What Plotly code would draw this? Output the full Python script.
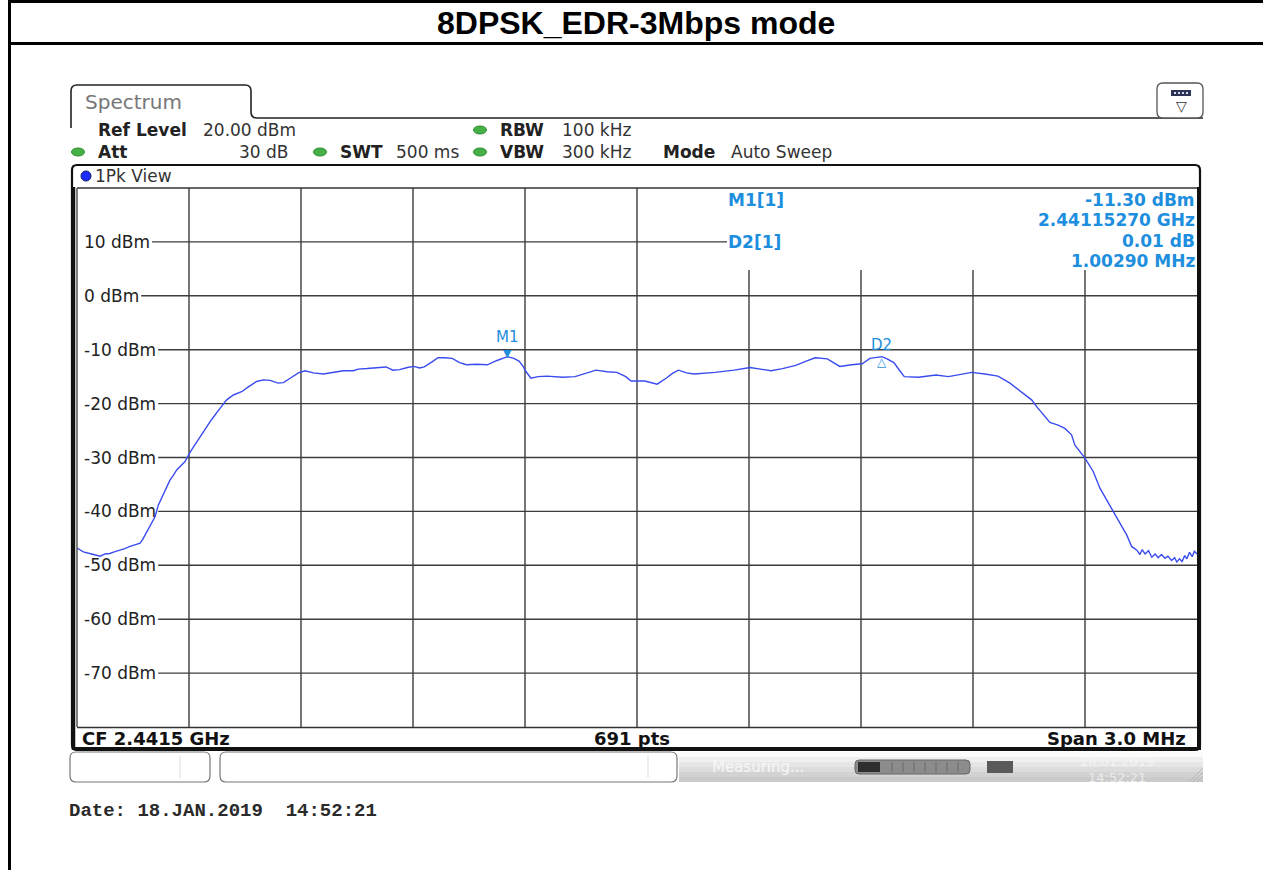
import plotly.graph_objects as go

# ---------------- data ----------------
TITLE = "8DPSK_EDR-3Mbps mode"
CENTER_FREQ_GHZ = 2.4415
SPAN_MHZ = 3.0
N_POINTS = 691
REF_LEVEL_DBM = 20.0
BOTTOM_LEVEL_DBM = -80.0
Y_GRID_DBM = [10, 0, -10, -20, -30, -40, -50, -60, -70]
X_DIVISIONS = 10

# trace: offset from start frequency (MHz) and level (dBm)
FREQ_OFFSET_MHZ = [
    0.000, 0.017, 0.039, 0.062, 0.075, 0.088, 0.100, 0.115, 0.128, 0.142,
    0.160, 0.169, 0.176, 0.182, 0.196, 0.209, 0.218, 0.236, 0.249, 0.258,
    0.267, 0.280, 0.289, 0.303, 0.321, 0.338, 0.361, 0.383, 0.401, 0.419,
    0.441, 0.459, 0.481, 0.499, 0.517, 0.539, 0.553, 0.571, 0.593, 0.611,
    0.633, 0.660, 0.687, 0.713, 0.740, 0.753, 0.777, 0.804, 0.828, 0.846,
    0.864, 0.885, 0.902, 0.918, 0.930, 0.950, 0.967, 0.985, 1.005, 1.025,
    1.043, 1.070, 1.099, 1.125, 1.146, 1.153, 1.170, 1.184, 1.194, 1.202,
    1.216, 1.235, 1.259, 1.300, 1.334, 1.365, 1.390, 1.420, 1.446, 1.470,
    1.484, 1.521, 1.554, 1.578, 1.595, 1.611, 1.633, 1.653, 1.680, 1.709,
    1.760, 1.803, 1.830, 1.859, 1.890, 1.925, 1.950, 1.977, 2.010, 2.030,
    2.043, 2.075, 2.103, 2.124, 2.145, 2.156, 2.170, 2.188, 2.205, 2.216,
    2.254, 2.301, 2.334, 2.365, 2.397, 2.432, 2.467, 2.499, 2.525, 2.545,
    2.557, 2.571, 2.588, 2.606, 2.628, 2.646, 2.664, 2.673, 2.700, 2.722,
    2.740, 2.758, 2.780, 2.794, 2.812, 2.825, 2.839, 2.847, 2.853, 2.861,
    2.870, 2.879, 2.888, 2.896, 2.905, 2.914, 2.922, 2.932, 2.940, 2.946,
    2.953, 2.960, 2.967, 2.973, 2.980, 2.987, 2.993, 3.000,
]
LEVEL_DBM = [
    -46.8, -47.5, -47.9, -48.3, -47.9, -47.8, -47.5, -47.2, -46.9, -46.5,
    -46.1, -45.9, -45.2, -44.4, -42.8, -41.0, -38.8, -36.3, -34.2, -33.3,
    -32.3, -31.4, -30.8, -29.0, -27.1, -25.5, -22.9, -20.9, -19.3, -18.4,
    -17.8, -16.9, -15.9, -15.6, -15.7, -16.2, -16.1, -15.3, -14.3, -13.9,
    -14.3, -14.5, -14.2, -13.9, -13.9, -13.6, -13.5, -13.3, -13.2, -13.8,
    -13.7, -13.3, -13.1, -13.4, -13.2, -12.3, -11.5, -11.5, -11.6, -12.4,
    -12.8, -12.7, -12.8, -12.0, -11.4, -11.3, -11.6, -12.1, -13.0, -14.0,
    -15.3, -15.0, -14.9, -15.1, -15.0, -14.3, -13.8, -14.1, -14.2, -15.0,
    -15.8, -15.8, -16.4, -15.3, -14.4, -13.8, -14.3, -14.5, -14.4, -14.2,
    -13.8, -13.3, -13.6, -13.9, -13.5, -12.9, -12.2, -11.5, -11.7, -12.6,
    -13.1, -12.8, -12.6, -11.6, -11.35, -11.29, -11.7, -12.4, -14.0, -15.0,
    -15.1, -14.7, -15.0, -14.6, -14.2, -14.5, -14.9, -16.2, -17.6, -18.6,
    -19.3, -20.6, -22.1, -23.5, -24.0, -24.6, -25.8, -27.7, -30.1, -32.6,
    -35.7, -37.9, -40.4, -42.2, -44.4, -46.5, -47.2, -48.0, -47.1, -47.9,
    -47.3, -48.5, -47.9, -48.6, -48.0, -48.7, -48.3, -49.1, -48.6, -49.4,
    -48.8, -49.3, -48.2, -48.8, -47.6, -48.4, -47.4, -47.9,
]

M1_FREQ_GHZ = 2.44115270
M1_LEVEL_DBM = -11.30
D2_DELTA_MHZ = 1.00290
D2_DELTA_DB = 0.01

# ---------------- layout geometry (pixels) ----------------
FIG_W, FIG_H = 1263, 870
PL, PR, PT, PB = 77, 1197, 188, 727

F_START = CENTER_FREQ_GHZ - SPAN_MHZ / 2000.0
F_STOP = CENTER_FREQ_GHZ + SPAN_MHZ / 2000.0
freqs_ghz = [F_START + o / 1000.0 for o in FREQ_OFFSET_MHZ]
d2_freq = M1_FREQ_GHZ + D2_DELTA_MHZ / 1000.0
d2_level = M1_LEVEL_DBM + D2_DELTA_DB


def xp(px):
    return (px - PL) / (PR - PL)


def yp(py):
    return (PB - py) / (PB - PT)


BLUE_MK = "#1e8ede"
TRACE_C = "#3a4cf0"
GRID_C = "#3c3c3c"
FONT = "DejaVu Sans"

shapes = []
annotations = []


def line_px(x0, y0, x1, y1, color="#000", width=1.5, layer="above"):
    shapes.append(dict(type="line", xref="paper", yref="paper",
                       x0=xp(x0), y0=yp(y0), x1=xp(x1), y1=yp(y1),
                       line=dict(color=color, width=width), layer=layer))


def rect_px(x0, y0, x1, y1, fill, color=None, width=0, layer="above"):
    shapes.append(dict(type="rect", xref="paper", yref="paper",
                       x0=xp(x0), y0=yp(y0), x1=xp(x1), y1=yp(y1),
                       fillcolor=fill,
                       line=dict(color=color or fill, width=width), layer=layer))


def rrect_px(x0, y0, x1, y1, r, color="#000", width=1.5, fill=None, layer="above"):
    X, Y = xp, yp
    p = (f"M {X(x0+r)},{Y(y0)} L {X(x1-r)},{Y(y0)} Q {X(x1)},{Y(y0)} {X(x1)},{Y(y0+r)} "
         f"L {X(x1)},{Y(y1-r)} Q {X(x1)},{Y(y1)} {X(x1-r)},{Y(y1)} "
         f"L {X(x0+r)},{Y(y1)} Q {X(x0)},{Y(y1)} {X(x0)},{Y(y1-r)} "
         f"L {X(x0)},{Y(y0+r)} Q {X(x0)},{Y(y0)} {X(x0+r)},{Y(y0)} Z")
    d = dict(type="path", xref="paper", yref="paper", path=p,
             line=dict(color=color, width=width), layer=layer)
    if fill:
        d["fillcolor"] = fill
    shapes.append(d)


def ellipse_px(cx, cy, rx, ry, fill, color):
    shapes.append(dict(type="circle", xref="paper", yref="paper",
                       x0=xp(cx - rx), y0=yp(cy + ry), x1=xp(cx + rx), y1=yp(cy - ry),
                       fillcolor=fill, line=dict(color=color, width=1)))


def txt(s, x, y, size=17, bold=False, color="#222", anchor="left", family=FONT,
        yanchor="middle"):
    annotations.append(dict(text=s, x=xp(x), y=yp(y), xref="paper", yref="paper",
                            xanchor=anchor, yanchor=yanchor, showarrow=False,
                            borderpad=0, borderwidth=0,
                            font=dict(family=family, size=size, color=color,
                                      weight="bold" if bold else "normal")))


# ---------------- outer document table ----------------
line_px(8, 1.5, FIG_W + 2, 1.5, "#000", 3)
line_px(8, 43.5, FIG_W + 2, 43.5, "#000", 3)
line_px(9.5, 0, 9.5, FIG_H + 2, "#000", 3)
txt(TITLE, 636, 23, size=32, bold=True, color="#000", anchor="center",
    family="Liberation Sans")

# ---------------- spectrum tab header ----------------
tab = (f"M {xp(71)},{yp(128)} L {xp(71)},{yp(91)} Q {xp(71)},{yp(85)} {xp(77)},{yp(85)} "
       f"L {xp(245)},{yp(85)} Q {xp(251)},{yp(85)} {xp(251)},{yp(91)} "
       f"L {xp(251)},{yp(112)} Q {xp(251)},{yp(118)} {xp(257)},{yp(118)} "
       f"L {xp(1203)},{yp(118)}")
shapes.append(dict(type="path", xref="paper", yref="paper", path=tab,
                   line=dict(color="#222", width=1.6)))
txt("Spectrum", 85, 102, size=20, color="#777")

# icon box at top right
rrect_px(1157, 83, 1203, 118, 6, color="#555", width=1.3, fill="white")
rect_px(1171, 90, 1191, 96, "#2c3355")
for cx in (1175, 1179, 1183, 1187):
    rect_px(cx - 1, 92, cx + 1, 94, "#d8dcf0")
txt("▽", 1181, 106, size=14, color="#333", anchor="center")

# header settings
R1, R2 = 130, 152
txt("Ref Level", 98, R1, bold=True)
txt("20.00 dBm", 203, R1, color="#333")
txt("RBW", 500, R1, bold=True)
txt("100 kHz", 562, R1, color="#333")
txt("Att", 98, R2, bold=True)
txt("30 dB", 289, R2, color="#333", anchor="right")
txt("SWT", 340, R2, bold=True)
txt("500 ms", 396, R2, color="#333")
txt("VBW", 500, R2, bold=True)
txt("300 kHz", 562, R2, color="#333")
txt("Mode", 663, R2, bold=True)
txt("Auto Sweep", 731, R2, color="#333")
for (cx, cy) in [(480, R1), (78, R2), (320, R2), (480, R2)]:
    ellipse_px(cx, cy, 6.5, 4, "#45b045", "#2f8a2f")

# ---------------- diagram frame ----------------
rrect_px(72, 165, 1200, 750, 5, color="#111", width=2.2)
line_px(73.5, 187, 73.5, 750, "#111", 3.5)
line_px(1199, 187, 1199, 750, "#111", 4)
line_px(72, 748.5, 1200, 748.5, "#111", 3)
line_px(PL, PT, PR, PT, "#333", 1.3)
line_px(PL, PB + 0.5, PR, PB + 0.5, "#333", 1.3)
line_px(PL, PT, PL, PB, "#555", 1.5)
ellipse_px(86, 176, 5, 5, "#1a2cff", "#10186a")
txt("1Pk View", 95, 176, color="#333")

# bottom info row
txt(f"CF {CENTER_FREQ_GHZ} GHz", 82, 738, size=18, bold=True, color="#111")
txt(f"{N_POINTS} pts", 632, 738, size=18, bold=True, color="#111", anchor="center")
txt(f"Span {SPAN_MHZ:.1f} MHz", 1186, 738, size=18, bold=True, color="#111",
    anchor="right")

# ---------------- grid ----------------
CW = {"0": .636, "1": .636, "2": .636, "3": .636, "4": .636, "5": .636, "6": .636,
      "7": .636, "8": .636, "9": .636, "-": .361, " ": .318, "d": .635, "B": .686,
      "m": .974}
LBL_SIZE = 17
step = SPAN_MHZ / X_DIVISIONS / 1000.0
INFO_BOTTOM_PX = 270
for i in range(1, X_DIVISIONS):
    xf = F_START + i * step
    top = 1.0 if i <= X_DIVISIONS // 2 else yp(INFO_BOTTOM_PX)
    shapes.append(dict(type="line", xref="x", yref="paper", x0=xf, x1=xf, y0=0, y1=top,
                       line=dict(color=GRID_C, width=1.4), layer="below"))

for v in Y_GRID_DBM:
    label = f"{v} dBm"
    w = sum(CW.get(c, .6) for c in label) * LBL_SIZE
    x_start = 84 + w + 2
    x_end = 727 if v == Y_GRID_DBM[0] else PR
    shapes.append(dict(type="line", xref="paper", yref="y", x0=xp(x_start), x1=xp(x_end),
                       y0=v, y1=v, line=dict(color=GRID_C, width=1.4), layer="below"))
    annotations.append(dict(text=label, x=xp(84), y=v, xref="paper", yref="y",
                            xanchor="left", yanchor="middle", showarrow=False,
                            borderpad=0, borderwidth=0,
                            font=dict(family=FONT, size=LBL_SIZE, color="#222")))

# ---------------- marker info ----------------
MK = dict(size=17, bold=True, color=BLUE_MK)
txt("M1[1]", 728, 200, **MK)
txt(f"{M1_LEVEL_DBM:.2f} dBm", 1195, 200, anchor="right", **MK)
txt(f"{M1_FREQ_GHZ:.8f} GHz", 1195, 220, anchor="right", **MK)
txt("D2[1]", 728, 242, **MK)
txt(f"{D2_DELTA_DB:.2f} dB", 1195, 241, anchor="right", **MK)
txt(f"{D2_DELTA_MHZ:.5f} MHz", 1195, 261, anchor="right", **MK)

# markers on trace
for (s, yan, ys, sz) in [("▼", "bottom", -3, 11), ("M1", "bottom", 11, 15)]:
    annotations.append(dict(text=s, x=M1_FREQ_GHZ, y=M1_LEVEL_DBM, xref="x", yref="y",
                            xanchor="center", yanchor=yan, yshift=ys, showarrow=False,
                            borderpad=0, borderwidth=0,
                            font=dict(family=FONT, size=sz, color=BLUE_MK)))
for (s, yan, ys, sz) in [("△", "top", 2, 12), ("D2", "bottom", 3, 15)]:
    annotations.append(dict(text=s, x=d2_freq, y=d2_level, xref="x", yref="y",
                            xanchor="center", yanchor=yan, yshift=ys, showarrow=False,
                            borderpad=0, borderwidth=0,
                            font=dict(family=FONT, size=sz, color=BLUE_MK)))

# ---------------- status bar ----------------
rrect_px(70, 752, 210, 782, 6, color="#777", width=1.2, fill="white")
line_px(180, 756, 180, 778, "#ddd", 1)
rrect_px(220, 752, 677, 782, 6, color="#777", width=1.2, fill="white")
line_px(648, 756, 648, 778, "#ddd", 1)
bands = ["#fbfbfb", "#f0f0f0", "#e6e6e6", "#dcdcdc", "#d2d2d2", "#cacaca"]
for k, c in enumerate(bands):
    rect_px(679, 752 + k * 5, 1203, 757 + k * 5, c)
txt("Measuring...", 712, 767, size=15, color="#f6f6f6")
rrect_px(855, 760, 970, 774, 4, color="#666", width=1, fill="#8c8c8c")
rect_px(858, 762, 880, 772, "#2e2e2e")
for sx in range(892, 966, 11):
    line_px(sx, 762, sx, 772, "#6a6a6a", 1)
rect_px(987, 761, 1013, 773, "#5a5a5a")
txt("18.01.2019", 1117, 761, size=13, color="#f4f4f4", anchor="center")
txt("14:52:21", 1117, 777, size=13, color="#ececec", anchor="center")
for k in range(4):
    line_px(1189 + k * 4, 782, 1203, 768 + k * 4, "#b8b8b8", 1)

# date line
txt("Date:\u00a018.JAN.2019\u00a0\u00a014:52:21", 69, 811, size=19, bold=True,
    color="#2a2a2a", family="Liberation Mono")

# ---------------- figure ----------------
fig = go.Figure()
fig.add_trace(go.Scatter(x=freqs_ghz, y=LEVEL_DBM, mode="lines",
                         line=dict(color=TRACE_C, width=1.4), hoverinfo="skip",
                         showlegend=False))
fig.update_layout(
    width=FIG_W, height=FIG_H, autosize=False,
    margin=dict(l=PL, r=FIG_W - PR, t=PT, b=FIG_H - PB, pad=0),
    paper_bgcolor="white", plot_bgcolor="white",
    xaxis=dict(range=[F_START, F_STOP], visible=False, fixedrange=True),
    yaxis=dict(range=[BOTTOM_LEVEL_DBM, REF_LEVEL_DBM], visible=False, fixedrange=True),
    shapes=shapes, annotations=annotations, showlegend=False,
)
fig.write_html("out.html", include_plotlyjs=True, full_html=True,
               config={"displayModeBar": False},
               post_script="document.body.style.margin='0';document.body.style.overflow='hidden';")
